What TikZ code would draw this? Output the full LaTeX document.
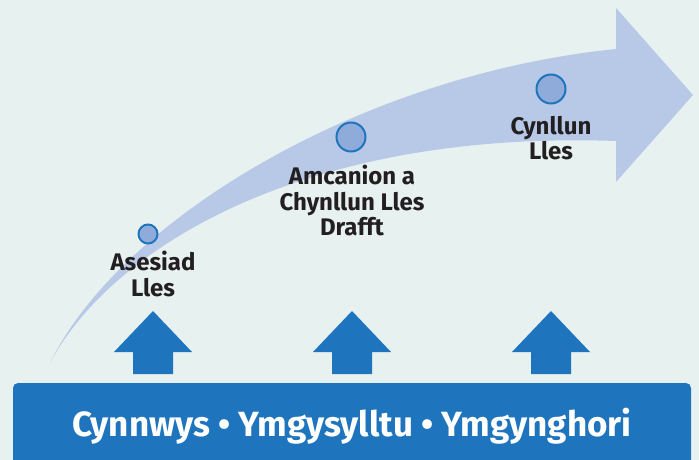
\documentclass[tikz,border=0pt]{standalone}
\usepackage{fontspec}
\setmainfont{Fira Sans}
\definecolor{bg}{HTML}{E7F1EF}
\definecolor{band}{HTML}{B8C9E8}
\definecolor{dot}{HTML}{8EABD9}
\definecolor{mainblue}{HTML}{1F75BD}
\definecolor{ink}{HTML}{231F20}
\begin{document}
\begin{tikzpicture}[x=1pt,y=-1pt,
  stagedot/.style={circle,draw=mainblue,line width=2pt,fill=dot,inner sep=0pt},
  stagelabel/.style={anchor=north,align=center,inner sep=0pt,text=ink,font=\bfseries\fontsize{24}{25.5}\selectfont},
  uparrow/.style={fill=mainblue}]
\useasboundingbox (0,0) rectangle (699,460);
\fill[bg] (0,0) rectangle (699,460);
% curved band arrow
\fill[band] (50,363) .. controls (120,220) and (360,75) .. (616,49)
  -- (616,8) -- (693,95) -- (616,182) -- (616,141)
  .. controls (300,130) and (110,250) .. (50,363) -- cycle;
% stage dots
\node[stagedot,minimum size=19pt] (d1) at (148,234) {};
\node[stagedot,minimum size=29pt] (d2) at (351,137) {};
\node[stagedot,minimum size=29pt] (d3) at (551,89) {};
% labels
\node[stagelabel] (l1) at (153,251) {Asesiad\\Lles};
\node[stagelabel] (l2) at (352,165) {Amcanion a\\Chynllun Lles\\Drafft};
\node[stagelabel] (l3) at (551,116) {Cynllun\\Lles};
% up arrows
\foreach \cx in {153,352,551}{
  \fill[uparrow] (\cx,311) -- (\cx+39,352) -- (\cx+20,352) -- (\cx+20,374)
    -- (\cx-20,374) -- (\cx-20,352) -- (\cx-39,352) -- cycle;
}
% bottom bar
\fill[mainblue,rounded corners=5pt] (13,383) rectangle (691,475);
\node[text=white,font=\bfseries\fontsize{35}{40}\selectfont,anchor=base] (bar) at (352,436)
  {Cynnwys • Ymgysylltu • Ymgynghori};
\end{tikzpicture}
\end{document}
